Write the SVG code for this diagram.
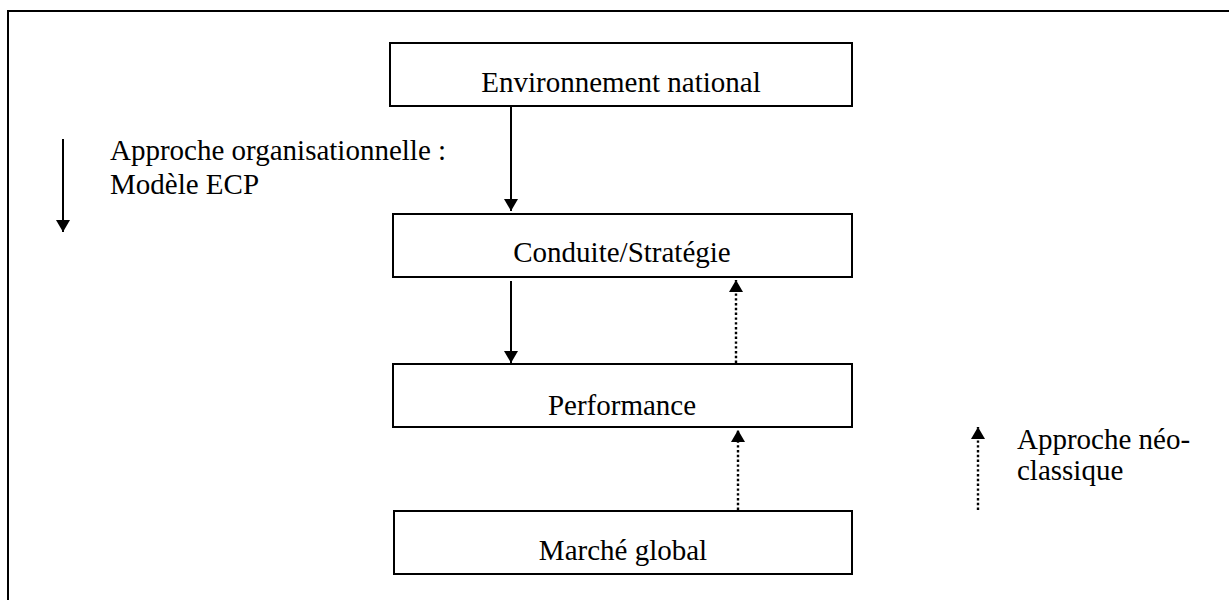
<svg xmlns="http://www.w3.org/2000/svg" width="1229" height="600" viewBox="0 0 1229 600">
<defs>
<style>
.box{fill:#fff;stroke:#000;stroke-width:2}
.t{font-family:"Liberation Serif","Times New Roman",serif;font-size:29px;fill:#000}
.c{text-anchor:middle}
.solid{stroke:#000;stroke-width:2;fill:none}
.dot{stroke:#000;stroke-width:2.4;fill:none;stroke-dasharray:2.4 2.4}
</style>
<marker id="ah" viewBox="0 0 12 14" refX="12" refY="7" markerWidth="12" markerHeight="14" markerUnits="userSpaceOnUse" orient="auto">
<path d="M0,0 L12,7 L0,14 z" fill="#000"/>
</marker>
</defs>
<rect width="1229" height="600" fill="#fff"/>
<g id="frame">
<path d="M8,600 V11 H1229" fill="none" stroke="#000" stroke-width="2"/>
</g>
<g id="n1"><rect class="box" x="390" y="43" width="462" height="63"/><text class="t c" x="621" y="92">Environnement national</text></g>
<g id="n2"><rect class="box" x="393" y="214" width="459" height="63"/><text class="t c" x="622" y="262">Conduite/Stratégie</text></g>
<g id="n3"><rect class="box" x="393" y="364" width="459" height="63"/><text class="t c" x="622" y="415">Performance</text></g>
<g id="n4"><rect class="box" x="394" y="511" width="458" height="63"/><text class="t c" x="623" y="560">Marché global</text></g>
<g id="connectors">
<line class="solid" x1="511" y1="106" x2="511" y2="211" marker-end="url(#ah)"/>
<line class="solid" x1="511" y1="281" x2="511" y2="363" marker-end="url(#ah)"/>
<line class="dot" x1="736" y1="363" x2="736" y2="280" marker-end="url(#ah)"/>
<line class="dot" x1="738" y1="510" x2="738" y2="430" marker-end="url(#ah)"/>
</g>
<g id="legend1">
<line class="solid" x1="63" y1="139" x2="63" y2="232" marker-end="url(#ah)"/>
<text class="t" x="110" y="160">Approche organisationnelle :</text>
<text class="t" x="110" y="194">Modèle ECP</text>
</g>
<g id="legend2">
<line class="dot" x1="978" y1="510" x2="978" y2="427" marker-end="url(#ah)"/>
<text class="t" x="1017" y="449">Approche néo-</text>
<text class="t" x="1017" y="480">classique</text>
</g>
</svg>
